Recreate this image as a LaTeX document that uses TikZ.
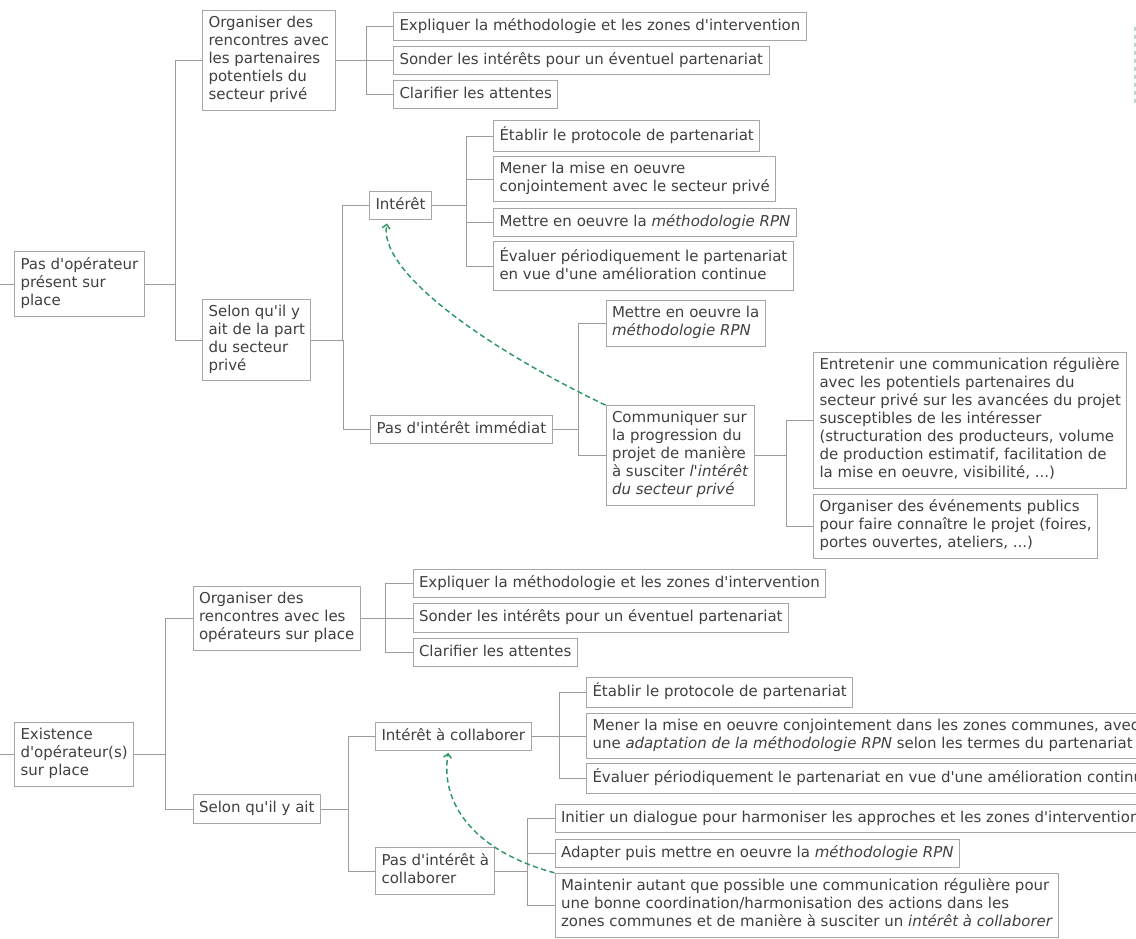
\documentclass[tikz,border=0pt]{standalone}
\usepackage{fontspec}
\setmainfont{DejaVu Sans}[Ligatures=TeXOff]
\usetikzlibrary{arrows.meta}

\definecolor{boxgray}{HTML}{A6A6A6}
\definecolor{linegray}{HTML}{9C9C9C}
\definecolor{textgray}{HTML}{404040}
\definecolor{loopgreen}{HTML}{2E9966}

\tikzset{
  item/.style={draw=boxgray, rectangle, align=left, anchor=west, text=textgray,
    font=\fontsize{11.25pt}{13.5pt}\selectfont, inner xsep=4.5pt, inner ysep=4.1pt,
    line width=0.75pt, execute at begin node=\strut, execute at end node=\strut},
  link/.style={draw=linegray, line width=0.75pt},
  feedback/.style={draw=loopgreen, line width=1.1pt, dash pattern=on 4pt off 2.5pt,
    -{Straight Barb[length=3pt,width=6pt]}}
}

\begin{document}
\begin{tikzpicture}[x=0.75pt, y=-0.75pt]
\clip (0,0) rectangle (1136,939);

% first case: no operator on site
\coordinate (in1) at (0,284);
\node[item] (root1) at (14,284) {Pas d'opérateur\\présent sur\\place};
\node[item] (org1) at (202,60.5) {Organiser des\\rencontres avec\\les partenaires\\potentiels du\\secteur privé};
\node[item] (expl1) at (393,26.5) {Expliquer la méthodologie et les zones d'intervention};
\node[item] (sond1) at (393,60.5) {Sonder les intérêts pour un éventuel partenariat};
\node[item] (clar1) at (393,94.5) {Clarifier les attentes};
\node[item] (selon1) at (202,340) {Selon qu'il y\\ait de la part\\du secteur\\privé};
\node[item] (int1) at (369,205.5) {Intérêt};
\node[item] (etab1) at (493,136) {Établir le protocole de partenariat};
\node[item] (mener1) at (493,179) {Mener la mise en oeuvre\\conjointement avec le secteur privé};
\node[item] (mettre1) at (493,222.5) {Mettre en oeuvre la \textit{méthodologie RPN}};
\node[item] (eval1) at (493,266) {Évaluer périodiquement le partenariat\\en vue d'une amélioration continue};
\node[item] (pasint1) at (370,429.5) {Pas d'intérêt immédiat};
\node[item] (mettre2) at (605.5,323.5) {Mettre en oeuvre la\\\textit{méthodologie RPN}};
\node[item] (comm1) at (605.5,455.5) {Communiquer sur\\la progression du\\projet de manière\\à susciter \textit{l'intérêt}\\\textit{du secteur privé}};
\node[item] (entr1) at (813,420.5) {Entretenir une communication régulière\\avec les potentiels partenaires du\\secteur privé sur les avancées du projet\\susceptibles de les intéresser\\(structuration des producteurs, volume\\de production estimatif, facilitation de\\la mise en oeuvre, visibilité, ...)};
\node[item] (even1) at (813,526.5) {Organiser des événements publics\\pour faire connaître le projet (foires,\\portes ouvertes, ateliers, ...)};

\draw[link] (in1) -- (root1.west);
\foreach \c in {org1,selon1} \draw[link] (root1.east) -| ([xshift=-20.25pt]\c.west) -- (\c.west);
\foreach \c in {expl1,sond1,clar1} \draw[link] (org1.east) -| ([xshift=-20.25pt]\c.west) -- (\c.west);
\foreach \c in {int1,pasint1} \draw[link] (selon1.east) -| ([xshift=-20.25pt]\c.west) -- (\c.west);
\foreach \c in {etab1,mener1,mettre1,eval1} \draw[link] (int1.east) -| ([xshift=-20.25pt]\c.west) -- (\c.west);
\foreach \c in {mettre2,comm1} \draw[link] (pasint1.east) -| ([xshift=-20.25pt]\c.west) -- (\c.west);
\foreach \c in {entr1,even1} \draw[link] (comm1.east) -| ([xshift=-20.25pt]\c.west) -- (\c.west);
\draw[feedback] (comm1.north west) .. controls (480,345) and (378,270) .. ([xshift=13.5pt,yshift=-2.25pt]int1.south west);

% second case: operator(s) on site
\coordinate (in2) at (0,754.5);
\node[item] (root2) at (14,754.5) {Existence\\d'opérateur(s)\\sur place};
\node[item] (org2) at (192.5,618.5) {Organiser des\\rencontres avec les\\opérateurs sur place};
\node[item] (expl2) at (412.5,583.5) {Expliquer la méthodologie et les zones d'intervention};
\node[item] (sond2) at (412.5,618) {Sonder les intérêts pour un éventuel partenariat};
\node[item] (clar2) at (412.5,652.5) {Clarifier les attentes};
\node[item] (selon2) at (192.5,809) {Selon qu'il y ait};
\node[item] (int2) at (375,736.5) {Intérêt à collaborer};
\node[item] (pasint2) at (375,871) {Pas d'intérêt à\\collaborer};
\node[item] (etab2) at (586,692.5) {Établir le protocole de partenariat};
\node[item] (mener2) at (586,736) {Mener la mise en oeuvre conjointement dans les zones communes, avec\\une \textit{adaptation de la méthodologie RPN} selon les termes du partenariat};
\node[item] (eval2) at (586,778.5) {Évaluer périodiquement le partenariat en vue d'une amélioration continue};
\node[item] (init2) at (554.5,818.5) {Initier un dialogue pour harmoniser les approches et les zones d'intervention};
\node[item] (adapt2) at (554.5,853.5) {Adapter puis mettre en oeuvre la \textit{méthodologie RPN}};
\node[item] (maint2) at (554.5,905.5) {Maintenir autant que possible une communication régulière pour\\une bonne coordination/harmonisation des actions dans les\\zones communes et de manière à susciter un \textit{intérêt à collaborer}};

\draw[link] (in2) -- (root2.west);
\foreach \c in {org2,selon2} \draw[link] (root2.east) -| ([xshift=-20.25pt]\c.west) -- (\c.west);
\foreach \c in {expl2,sond2,clar2} \draw[link] (org2.east) -| ([xshift=-20.25pt]\c.west) -- (\c.west);
\foreach \c in {int2,pasint2} \draw[link] (selon2.east) -| ([xshift=-20.25pt]\c.west) -- (\c.west);
\foreach \c in {etab2,mener2,eval2} \draw[link] (int2.east) -| ([xshift=-20.25pt]\c.west) -- (\c.west);
\foreach \c in {init2,adapt2,maint2} \draw[link] (pasint2.east) -| ([xshift=-20.25pt]\c.west) -- (\c.west);
\draw[feedback] (maint2.north west) .. controls (470,850) and (440,800) .. ([xshift=55pt,yshift=-1pt]int2.south west);

% faint trace at the right edge
\draw[loopgreen!35, dashed, line width=1pt] (1135,27) -- (1135,107);
\end{tikzpicture}
\end{document}
